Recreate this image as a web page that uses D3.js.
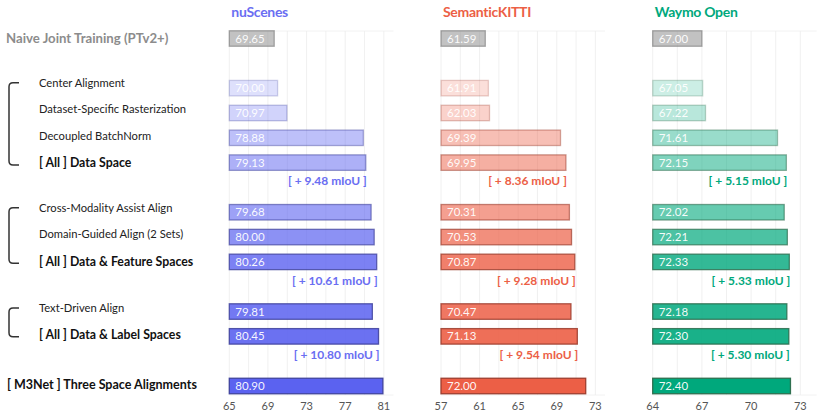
<!DOCTYPE html>
<html><head><meta charset="utf-8">
<script src="https://cdn.jsdelivr.net/npm/d3@7/dist/d3.min.js"></script>
<style>body{margin:0;background:#fff;} text{font-family:Lato,"Open Sans",sans-serif;}</style>
</head><body><svg id="c" width="830" height="416"></svg>
<script>
const categories = ["Naive Joint Training (PTv2+)","Center Alignment","Dataset-Specific Rasterization","Decoupled BatchNorm","[ All ] Data Space","Cross-Modality Assist Align","Domain-Guided Align (2 Sets)","[ All ] Data & Feature Spaces","Text-Driven Align","[ All ] Data & Label Spaces","[ M3Net ] Three Space Alignments"];
const rowIndex = [0,2,3,4,5,7,8,9,11,12,14];
const labelKind = ["head","sub","sub","sub","bold","sub","sub","bold","sub","bold","head2"];
const opacities = [0.6,0.2,0.28,0.4,0.5,0.6,0.7,0.8,0.85,0.9,1.0];
const datasets = ["nuScenes","SemanticKITTI","Waymo Open"];
const nuScenes = [69.65,70.00,70.97,78.88,79.13,79.68,80.00,80.26,79.81,80.45,80.90];
const semanticKITTI = [61.59,61.91,62.03,69.39,69.95,70.31,70.53,70.87,70.47,71.13,72.00];
const waymo = [67.00,67.05,67.22,71.61,72.15,72.02,72.21,72.33,72.18,72.30,72.40];
const gainRows = [4,7,9];
const nuGains = ["[ + 9.48 mIoU ]","[ + 10.61 mIoU ]","[ + 10.80 mIoU ]"];
const kittiGains = ["[ + 8.36 mIoU ]","[ + 9.28 mIoU ]","[ + 9.54 mIoU ]"];
const waymoGains = ["[ + 5.15 mIoU ]","[ + 5.33 mIoU ]","[ + 5.30 mIoU ]"];
const nuTicks = [65,69,73,77,81];
const kittiTicks = [57,61,65,69,73];
const waymoTicks = [64,67,70,73];
// label groups: [first category index, last category index]
const groups = [[0,0],[1,4],[5,7],[8,9],[10,10]];
const bracketed = [1,2,3];

const panels = [
  {name:datasets[0], vals:nuScenes, gains:nuGains, ticks:nuTicks, domain:[65,82], range:[229.3,393.5], grid:d3.range(65,81.1,2), color:"#5b62f0", stroke:"#3c3f9a", title:"#6a6ef2"},
  {name:datasets[1], vals:semanticKITTI, gains:kittiGains, ticks:kittiTicks, domain:[57,74], range:[441,605], grid:d3.range(57,73.1,2), color:"#ec5f46", stroke:"#9a3a2a", title:"#ec5f46"},
  {name:datasets[2], vals:waymo, gains:waymoGains, ticks:waymoTicks, domain:[64,74], range:[652.7,816.7], grid:d3.range(64,73.1,1.5), color:"#00a87c", stroke:"#2a6a4a", title:"#00a87c"}
];

const svg = d3.select("#c");
const y = d3.scaleLinear().domain([0,14]).range([38.5,386]);
const barH = 15.5;
const labelStep = 26.8;

// label y positions: spread within group around the group's bar centre
const labelY = [];
groups.forEach(([a,b])=>{
  const c = (y(rowIndex[a])+y(rowIndex[b]))/2 - (b>a?2.5:1);
  for(let i=a;i<=b;i++) labelY[i] = c + (i-(a+b)/2)*labelStep;
});
labelY[0] = y(rowIndex[0]);

categories.forEach((c,i)=>{
  const k = labelKind[i];
  const t = svg.append("text").attr("y", labelY[i]).attr("dy","0.35em").text(c);
  if(k==="head"){ t.attr("x",6).attr("font-size",13.2).attr("font-weight","bold").attr("fill","#8c8c8c"); }
  else if(k==="head2"){ t.attr("x",7).attr("font-size",12.5).attr("font-weight","bold").attr("fill","#111"); }
  else if(k==="bold"){ t.attr("x",39).attr("font-size",12.3).attr("font-weight","bold").attr("fill","#111"); }
  else { t.attr("x",39).attr("font-size",11.2).attr("fill","#222"); }
});
bracketed.forEach(gi=>{
  const [a,b] = groups[gi];
  const t = labelY[a], bt = labelY[b]+2;
  svg.append("path").attr("d",`M19,${t} L13,${t} Q9,${t} 9,${t+4} L9,${bt-4} Q9,${bt} 13,${bt} L19,${bt}`)
    .attr("fill","none").attr("stroke","#333").attr("stroke-width",1.5);
});

panels.forEach(p=>{
  const x = d3.scaleLinear().domain(p.domain).range(p.range);
  const g = svg.append("g");
  g.append("line").attr("x1",p.range[0]).attr("x2",p.range[1]).attr("y1",31).attr("y2",31).attr("stroke","#f2f2f2");
  g.append("line").attr("x1",p.range[0]).attr("x2",p.range[1]).attr("y1",395).attr("y2",395).attr("stroke","#f2f2f2");
  g.selectAll(".grid").data(p.grid).enter().append("line")
    .attr("x1",d=>x(d)).attr("x2",d=>x(d)).attr("y1",31).attr("y2",395).attr("stroke","#ececec").attr("stroke-width",0.8);
  g.append("text").attr("x",p.range[0]+2).attr("y",12).attr("dy","0.35em").attr("font-size",14).attr("letter-spacing",-0.3).attr("font-weight","bold").attr("fill",p.title).text(p.name);
  p.vals.forEach((v,i)=>{
    const cy = y(rowIndex[i]);
    const gray = i===0;
    g.append("rect").attr("x",x(p.domain[0])).attr("y",cy-barH/2).attr("width",x(v)-x(p.domain[0])).attr("height",barH)
      .attr("fill",gray?"#999":p.color).attr("fill-opacity",opacities[i])
      .attr("stroke",gray?"#777":p.stroke).attr("stroke-opacity",gray?0.6:Math.min(1,opacities[i]*0.9+0.05)).attr("stroke-width",1.3);
    g.append("text").attr("x",x(p.domain[0])+6).attr("y",cy).attr("dy","0.35em").attr("font-size",11.5).attr("fill","#fff").attr("fill-opacity",0.95).text(v.toFixed(2));
  });
  gainRows.forEach((r,j)=>{
    g.append("text").attr("x",x(p.vals[r])+1).attr("y",y(rowIndex[r])+18.5).attr("dy","0.35em").attr("text-anchor","end")
      .attr("font-size",12).attr("font-weight","bold").attr("fill",p.title).text(p.gains[j]);
  });
  g.selectAll(".tick").data(p.ticks).enter().append("text")
    .attr("x",d=>x(d)).attr("y",406).attr("dy","0.35em").attr("text-anchor","middle").attr("font-size",11).attr("fill","#555").text(d=>d);
});
</script></body></html>
